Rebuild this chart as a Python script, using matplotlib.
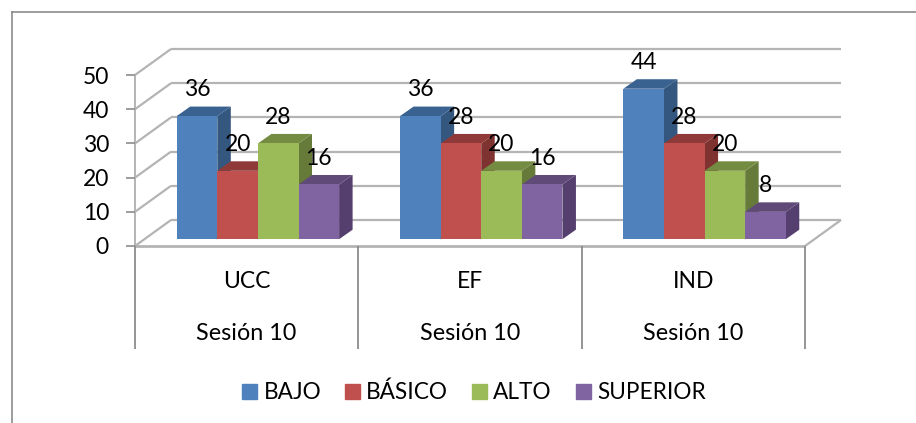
import matplotlib
matplotlib.use('Agg')
import matplotlib.pyplot as plt
from matplotlib.patches import Patch

plt.rcParams['font.family'] = ['Lato', 'DejaVu Sans']

W, H = 916, 423

# datos
categorias = ['UCC', 'EF', 'IND']
sesiones = ['Sesión 10', 'Sesión 10', 'Sesión 10']
series = ['BAJO', 'BÁSICO', 'ALTO', 'SUPERIOR']
bajo = [36, 36, 44]
basico = [20, 28, 28]
alto = [28, 20, 20]
superior = [16, 16, 8]
valores = [bajo, basico, alto, superior]

colores = ['#4F81BD', '#C0504D', '#9BBB59', '#8064A2']
techos = ['#3A6291', '#8F3A38', '#748C42', '#604A78']
lados = ['#33577F', '#7F3331', '#667B3A', '#553F6E']

GRIS = '#B4B4B4'
GRIS_EJE = '#8C8C8C'

fig = plt.figure(figsize=(W / 100, H / 100), dpi=100)

# el eje frontal va de x=135 a 805 y de y=246 a 75 (pixeles)
ax = fig.add_axes([135 / W, 1 - 246 / H, 670 / W, 171 / H])
ax.set_xlim(0, 3)
ax.set_ylim(0, 50)
ax.axis('off')

px_x = 3 / 670
px_y = 50 / 171
# profundidad de la caja 3D
prof_x = 36 * px_x
prof_y = 26 * px_y


def linea(xs, ys, color=GRIS, lw=1.6, z=1):
    ax.plot(xs, ys, color=color, lw=lw, clip_on=False, zorder=z, solid_capstyle='butt')


# paredes: lineas de la grilla
for v in range(0, 60, 10):
    linea([0, prof_x], [v, v + prof_y])
    linea([prof_x, 3 + prof_x], [v + prof_y, v + prof_y])
linea([3, 3 + prof_x], [0, prof_y])
linea([0, 3], [0, 0], lw=2)
linea([0, 0], [0, 50], lw=1.4)

# marcas del eje y
for v in range(0, 60, 10):
    linea([-9 * px_x, 0], [v, v], color=GRIS_EJE, lw=1.2)
    ax.text(-26 * px_x, v, str(v), ha='right', va='center_baseline', fontsize=16.5, color='black')

# separadores de categorias
for i in range(4):
    linea([i, i], [0, -103 * px_y], color=GRIS_EJE, lw=1.3)

# etiquetas del eje x en dos niveles
for i, (c, s) in enumerate(zip(categorias, sesiones)):
    ax.text(i + 0.5, -35 * px_y, c, ha='center', va='center', fontsize=16.5)
    ax.text(i + 0.5, -87 * px_y, s, ha='center', va='center', fontsize=16.8)

# barras
ancho = 40.6 * px_x
margen = 41.7 * px_x
base = 6.8 * px_y
dx = 13.5 * px_x
dy = 9.5 * px_y
z = 3
for i in range(len(categorias)):
    for j, vals in enumerate(valores):
        x0 = i + margen + j * ancho
        x1 = x0 + ancho
        v = vals[i]
        ax.fill([x1, x1 + dx, x1 + dx, x1], [base, base + dy, base + v + dy, base + v],
                color=lados[j], lw=0, clip_on=False, zorder=z)
        ax.fill([x0, x1, x1 + dx, x0 + dx], [base + v, base + v, base + v + dy, base + v + dy],
                color=techos[j], lw=0, clip_on=False, zorder=z)
        ax.bar(x0, v, width=ancho, bottom=base, align='edge', color=colores[j], lw=0, clip_on=False, zorder=z)
        z += 1
        ax.annotate(str(v), (x0 + ancho / 2, base + v), xytext=(0, 19), textcoords='offset points',
                    ha='center', va='center', fontsize=16.5, zorder=50, annotation_clip=False)

handles = [Patch(color=c, label=s) for c, s in zip(colores, series)]
fig.legend(handles=handles, loc='center', bbox_to_anchor=(474 / W, 1 - 392.5 / H), ncol=4, frameon=False,
           fontsize=16.3, handlelength=0.66, handleheight=0.66, handletextpad=0.27, columnspacing=1.06)

# marco exterior
fig.add_artist(plt.Line2D([11.5 / W, 11.5 / W], [0, 1 - 12.5 / H], color=GRIS_EJE, lw=1.2))
fig.add_artist(plt.Line2D([11.5 / W, 1], [1 - 12.5 / H, 1 - 12.5 / H], color=GRIS_EJE, lw=1.2))

fig.savefig('out.png', dpi=100)
